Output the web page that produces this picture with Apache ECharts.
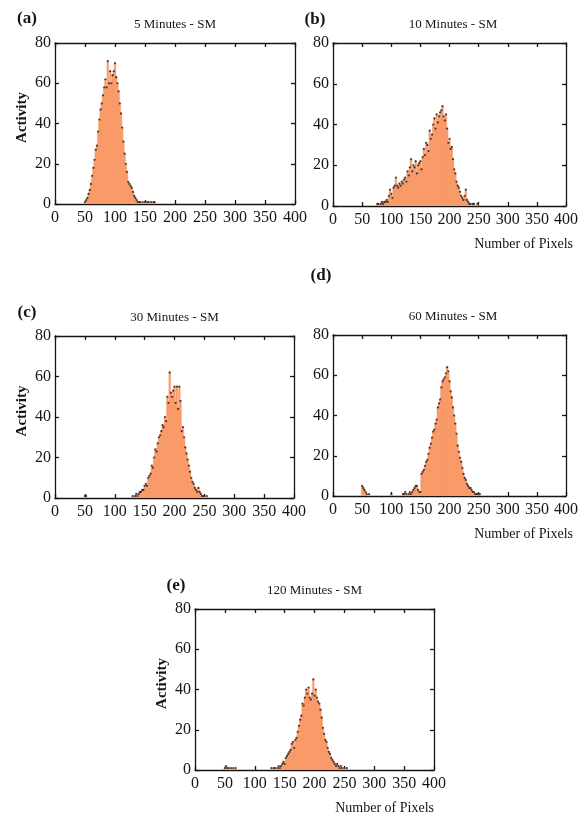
<!DOCTYPE html>
<html>
<head>
<meta charset="utf-8">
<script src="https://cdn.jsdelivr.net/npm/echarts@6/dist/echarts.min.js"></script>
<style>
  html, body { margin: 0; padding: 0; background: #fff; }
  #chart { width: 581px; height: 817px; }
</style>
</head>
<body>
<div id="chart"></div>
<script>
// Histogram bins are 2 pixels wide; each list gives counts from its first bin centre upward.
const binWidth = 2;
const xTicks = [0, 400, 50];   // min, max, step
const yTicks = [0, 80, 20];

const startA = 50;
const countsA = [1,2,3,5,7,10,14,18,22,27,
                 29,36,42,47,50,54,58,62,58,71,
                 60,66,60,64,66,70,63,60,56,50,
                 45,38,31,25,20,16,11,10,9,8,
                 6,4,3,2,1,1,1,0,1,0,
                 1,0,1,1,0,1,0,1,1];

const startB = 76;
const countsB = [1,1,0,1,2,1,2,2,3,2,
                 5,8,6,4,9,10,14,10,9,11,
                 10,12,11,13,14,12,17,15,19,23,
                 17,20,19,22,16,20,21,22,18,24,
                 28,25,31,30,27,37,33,35,40,43,
                 38,45,41,44,46,47,49,44,42,45,
                 38,31,33,28,29,23,18,16,12,10,
                 9,7,5,4,3,5,8,3,2,1,
                 1,0,1,1,0,0,1];

const startC = 50;
const countsC = [1,1,0,0,0,0,0,0,0,0,
                 0,0,0,0,0,0,0,0,0,0,
                 0,0,0,0,0,0,0,0,0,0,
                 0,0,0,0,0,0,0,0,0,0,
                 1,0,1,2,1,2,3,3,4,4,
                 6,7,6,10,11,12,16,15,20,24,
                 23,27,30,31,33,36,35,40,38,50,
                 47,62,52,50,53,55,47,55,44,55,
                 48,33,35,30,25,22,19,16,13,10,
                 8,7,5,4,3,5,3,2,1,1,
                 1,0,1];

const startD = 50;
const countsD = [5,4,3,2,1,0,1,0,0,0,
                 0,0,0,0,0,0,0,0,0,0,
                 0,0,0,0,0,1,0,0,0,0,
                 0,0,0,0,0,1,1,2,1,0,
                 1,2,1,2,3,4,5,5,3,2,
                 2,11,12,13,15,17,18,21,24,26,
                 29,32,33,36,38,44,46,48,54,57,
                 58,59,61,64,62,57,52,49,44,40,
                 36,31,25,22,19,17,14,11,9,8,
                 6,5,4,4,3,2,2,1,1,1,
                 0,1];

const startE = 50;
const countsE = [1,2,1,1,0,1,0,1,0,1,
                 0,0,0,0,0,0,0,0,0,0,
                 0,0,0,0,0,0,0,0,0,0,
                 0,0,0,0,0,0,0,0,0,1,
                 0,1,1,0,1,2,1,2,3,4,
                 3,6,7,8,9,10,13,14,11,15,
                 16,19,22,25,27,33,32,36,40,38,
                 41,36,35,38,45,37,40,36,34,33,
                 30,26,21,18,15,14,11,9,8,6,
                 5,4,3,2,3,2,1,2,1,0,
                 1,0,1];

const panels = [
  { start: startA, counts: countsA, title: '5 Minutes - SM',   tag: '(a)', rect: [55, 43, 240, 161],  activity: true,  pixels: false },
  { start: startB, counts: countsB, title: '10 Minutes - SM',  tag: '(b)', rect: [333, 43, 240, 163], activity: false, pixels: true },
  { start: startC, counts: countsC, title: '30 Minutes - SM',  tag: '(c)', rect: [55, 336, 239, 162], activity: true,  pixels: false },
  { start: startD, counts: countsD, title: '60 Minutes - SM',  tag: '(d)', rect: [333, 335, 240, 161], activity: false, pixels: true },
  { start: startE, counts: countsE, title: '120 Minutes - SM', tag: '(e)', rect: [195, 609, 239, 161], activity: true,  pixels: true }
];

// Where the panel letters sit (they are offset from the plots, not centred on them).
const tagPos = [[27, 19], [315, 20], [27, 313], [321, 276], [176, 586]];

const serif = '"Liberation Serif", "DejaVu Serif", serif';
const barColor = '#F99B69';
const ink = '#151515';

const grids = [], xAxes = [], yAxes = [], series = [], graphics = [];

panels.forEach((p, i) => {
  const [left, top, width, height] = p.rect;
  grids.push({ left, top, width, height, containLabel: false });

  const pairs = p.counts.map((c, k) => [p.start + k * binWidth, c]);

  const lineStyle = { color: ink, width: 1.3 };
  // bottom + top x axes (top one only carries the inward ticks of the box)
  xAxes.push({
    gridIndex: i, type: 'value', min: xTicks[0], max: xTicks[1], interval: xTicks[2],
    axisLine: { show: true, onZero: false, lineStyle },
    axisTick: { show: true, inside: true, length: 4, lineStyle },
    axisLabel: { fontFamily: serif, fontSize: 16, color: ink, margin: 6 },
    splitLine: { show: false }
  });
  xAxes.push({
    gridIndex: i, type: 'value', position: 'top', min: xTicks[0], max: xTicks[1], interval: xTicks[2],
    axisLine: { show: true, onZero: false, lineStyle },
    axisTick: { show: true, inside: true, length: 4, lineStyle },
    axisLabel: { show: false }, splitLine: { show: false }
  });
  yAxes.push({
    gridIndex: i, type: 'value', min: yTicks[0], max: yTicks[1], interval: yTicks[2],
    axisLine: { show: true, onZero: false, lineStyle },
    axisTick: { show: true, inside: true, length: 4, lineStyle },
    axisLabel: { fontFamily: serif, fontSize: 16, color: ink, margin: 4 },
    splitLine: { show: false }
  });
  yAxes.push({
    gridIndex: i, type: 'value', position: 'right', min: yTicks[0], max: yTicks[1], interval: yTicks[2],
    axisLine: { show: true, onZero: false, lineStyle },
    axisTick: { show: true, inside: true, length: 4, lineStyle },
    axisLabel: { show: false }, splitLine: { show: false }
  });

  // histogram bars: each bin spans [centre - 1, centre + 1]
  series.push({
    type: 'custom',
    xAxisIndex: 2 * i, yAxisIndex: 2 * i,
    data: pairs,
    encode: { x: 0, y: 1 },
    clip: true,
    z: 2,
    renderItem: (params, api) => {
      const x = api.value(0), y = api.value(1);
      if (!y) return null;
      const a = api.coord([x - binWidth / 2, y]);
      const b = api.coord([x + binWidth / 2, 0]);
      return {
        type: 'rect',
        shape: { x: a[0] - 0.3, y: a[1], width: b[0] - a[0] + 0.6, height: b[1] - a[1] },
        style: { fill: barColor, stroke: barColor, lineWidth: 0.4 }
      };
    }
  });
  // markers at the top of every non-empty bin
  series.push({
    type: 'scatter',
    xAxisIndex: 2 * i, yAxisIndex: 2 * i,
    data: pairs.filter(d => d[1] > 0),
    symbol: 'circle', symbolSize: 2.2,
    itemStyle: { color: '#1c1c1c' },
    z: 3, silent: true
  });

  graphics.push({
    type: 'text', x: left + width / 2, y: top - 18,
    style: { text: p.title, font: '13px ' + serif, fill: ink, textAlign: 'center', textVerticalAlign: 'middle' }
  });
  graphics.push({
    type: 'text', x: tagPos[i][0], y: tagPos[i][1],
    style: { text: p.tag, font: 'bold 17px ' + serif, fill: ink, textAlign: 'center', textVerticalAlign: 'middle' }
  });
  if (p.activity) {
    graphics.push({
      type: 'text', x: left - 33, y: top + height / 2 - 6, rotation: Math.PI / 2,
      style: { text: 'Activity', font: 'bold 15px ' + serif, fill: ink, textAlign: 'center', textVerticalAlign: 'middle' }
    });
  }
  if (p.pixels) {
    graphics.push({
      type: 'text', x: left + width, y: top + height + 38,
      style: { text: 'Number of Pixels', font: '14px ' + serif, fill: ink, textAlign: 'right', textVerticalAlign: 'middle' }
    });
  }
});

const chart = echarts.init(document.getElementById('chart'), null, { renderer: 'canvas' });
chart.setOption({
  animation: false,
  backgroundColor: '#fff',
  grid: grids,
  xAxis: xAxes,
  yAxis: yAxes,
  series: series,
  graphic: graphics
});
</script>
</body>
</html>
